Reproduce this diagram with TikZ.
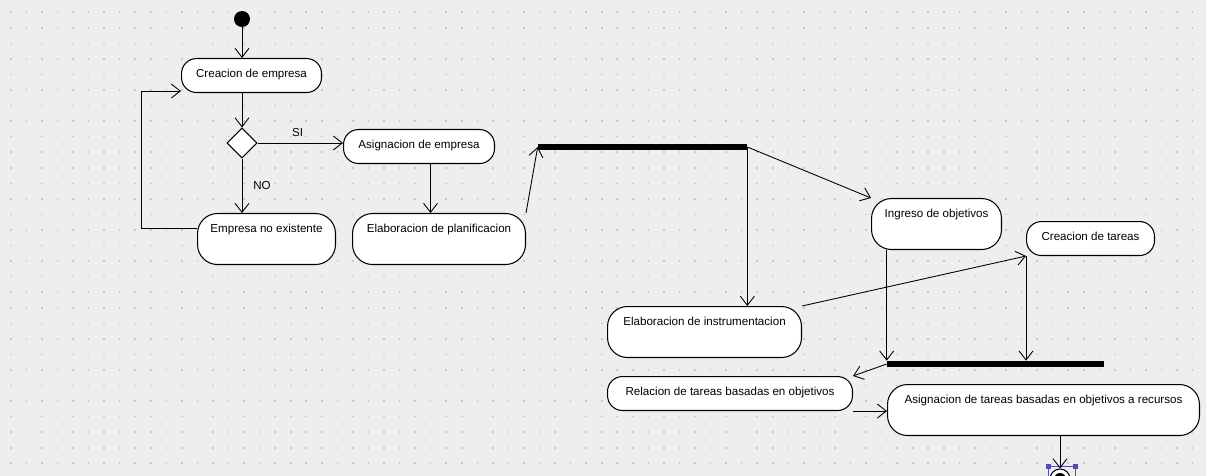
\documentclass[tikz,border=0pt]{standalone}
\usepackage{fontspec}
\setmainfont{Liberation Sans}
\usetikzlibrary{positioning, arrows.meta, shapes.geometric}
\definecolor{canvas}{RGB}{238,238,238}
\definecolor{griddot}{RGB}{200,200,200}
\definecolor{selblue}{RGB}{80,80,170}

\begin{document}
\begin{tikzpicture} [x = 0.02cm, y = -0.02cm, font = \fontsize{6.6}{8}\selectfont,
    act/.style = {draw, fill = white, rounded corners = 0.3cm, line width = 0.6pt,
        inner xsep = 0pt, inner ysep = 0pt, text height = 0.38cm, text depth = 0.3cm,
        anchor = north west},
    tallact/.style = {act, rounded corners = 0.4cm, text depth = 0.64cm},
    bar/.style = {fill = black, inner sep = 0pt, minimum height = 0.12cm},
    flow/.style = {-{Straight Barb[length = 0.18cm, width = 0.28cm]}, line width = 0.5pt}]
% canvas with dot grid
\useasboundingbox (0,0) rectangle (1206,476);
\clip (0,0) rectangle (1206,476);
\fill [canvas] (0,0) rectangle (1206,476);
\foreach \i in {0,...,77}
    \foreach \j in {0,...,30}
        \fill [griddot] (10+15.55*\i, 11.5+15.55*\j) rectangle ++(1.6,1.6);

% nodes
\node (start) [circle, fill = black, minimum size = 0.32cm, inner sep = 0pt] at (242,19) {};
\node (crea) [act, minimum width = 2.8cm] at (181,58) {Creacion de empresa};
\node (dec) [diamond, draw, fill = white, minimum size = 0.6cm, inner sep = 0pt,
    line width = 0.6pt] at (242,143) {};
\node (asig) [act, minimum width = 3.02cm] at (343,129) {Asignacion de empresa};
\node (noex) [tallact, minimum width = 2.76cm] at (197,213) {Empresa no existente};
\node (plan) [tallact, minimum width = 3.46cm] at (352,213) {Elaboracion de planificacion};
\node (fork) [bar, minimum width = 4.18cm] at (642.5,147) {};
\node (ingreso) [tallact, minimum width = 2.6cm] at (871,198) {Ingreso de objetivos};
\node (tareas) [act, minimum width = 2.56cm] at (1026,221) {Creacion de tareas};
\node (instr) [tallact, minimum width = 3.88cm] at (607,306) {Elaboracion de instrumentacion};
\node (join) [bar, minimum width = 4.34cm] at (995.5,364) {};
\node (rel) [act, minimum width = 4.9cm] at (607,376) {Relacion de tareas basadas en objetivos};
\node (asigt) [tallact, minimum width = 6.24cm] at (887,384)
    {Asignacion de tareas basadas en objetivos a recursos};
\node (end) [circle, draw, fill = white, minimum size = 0.4cm, inner sep = 0pt,
    line width = 0.6pt] at (1060,479) {};
\fill (end) circle (0.12cm);

% selection handles
\draw [selblue, line width = 0.5pt] (1048,466) rectangle (1075,495);
\fill [selblue] (1045.5,463.5) rectangle ++(5,5);
\fill [selblue] (1072.5,463.5) rectangle ++(5,5);

% connectors
\coordinate (asigout) at ([xshift = 0.23cm]asig.south);
\path [flow]
    (start) edge (start |- crea.north)
    (dec.north |- crea.south) edge (dec.north)
    (dec.east) edge node [above, pos = 0.47] {SI} (dec.east -| asig.west)
    (dec.south) edge node [right, xshift = 0.1cm] {NO} (dec.south |- noex.north)
    (asigout) edge (asigout |- plan.north)
    (plan.north east) edge (fork.west)
    (fork.east) edge (fork.east |- instr.north)
    (fork.east) edge (ingreso.north west)
    (instr.north east) edge (tareas.south west)
    (join.west |- ingreso.south) edge (join.north west)
    (tareas.south west) edge (tareas.south west |- join.north)
    (join.west) edge (rel.north east)
    (rel.south east) edge (rel.south east -| asigt.west)
    (end |- asigt.south) edge (end.north);
\draw [flow] ([yshift = -0.3cm]noex.north west) -- ++(-56,0) |- ([yshift = 0.04cm]crea.south west);
\end{tikzpicture}
\end{document}
